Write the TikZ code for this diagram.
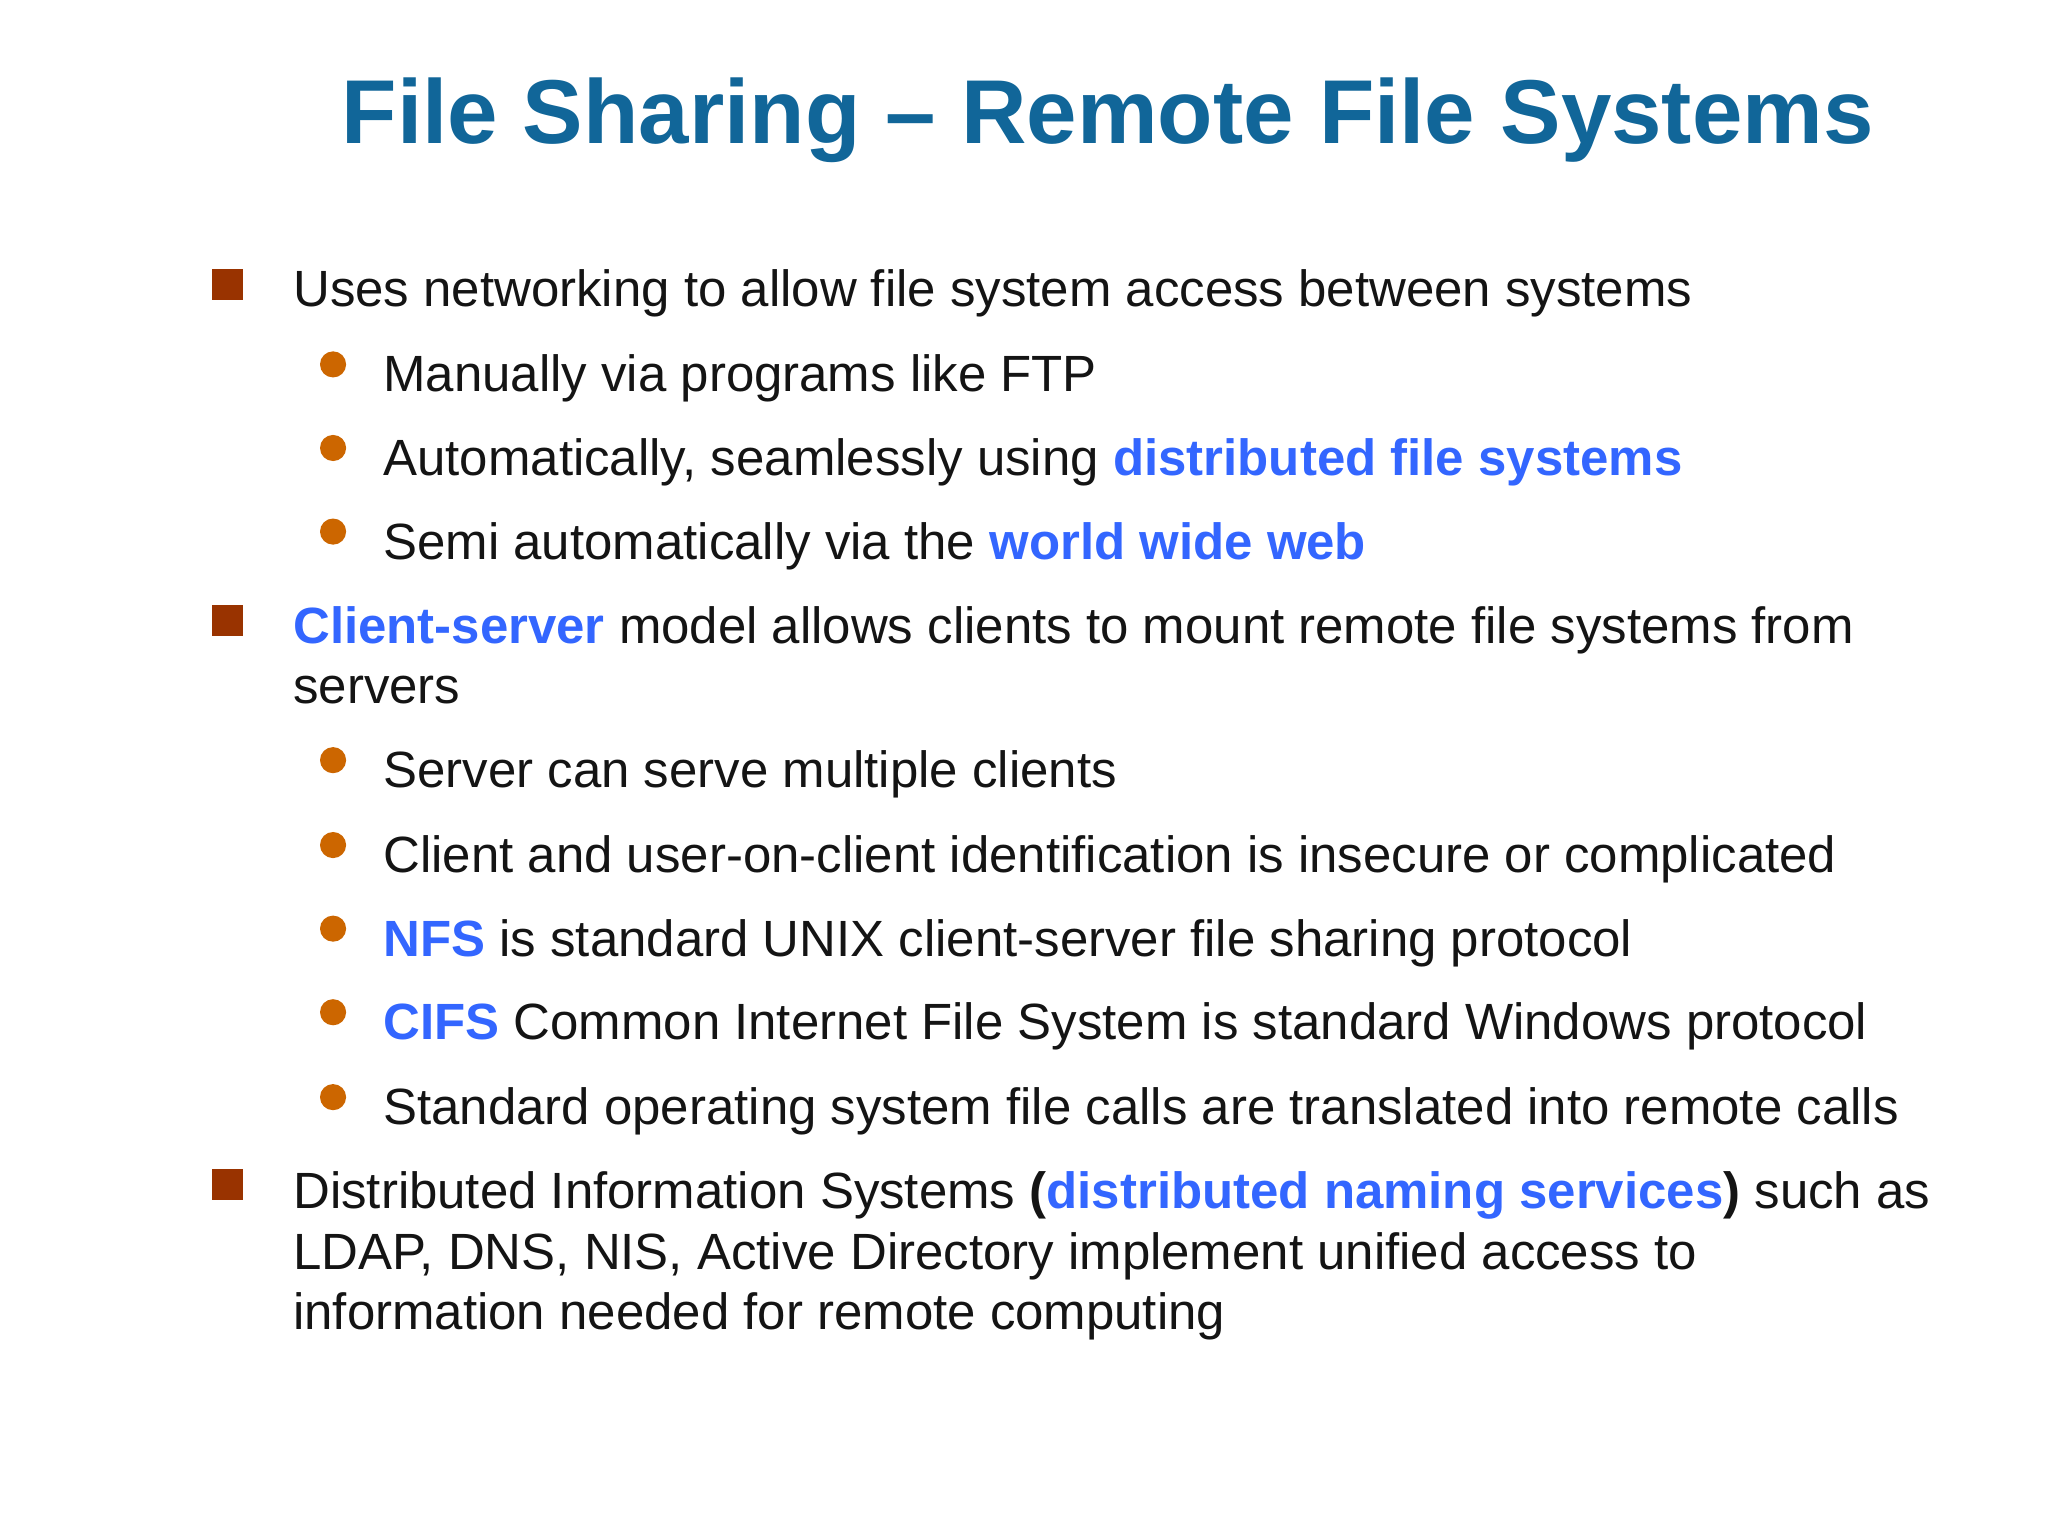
\documentclass[tikz,border=0pt]{standalone}
\usepackage{fontspec}
\setmainfont{Liberation Sans}
\definecolor{titleblue}{RGB}{17,102,153}
\definecolor{hl}{RGB}{51,102,255}
\definecolor{sqc}{RGB}{153,51,0}
\definecolor{dotc}{RGB}{204,102,0}
\definecolor{txt}{RGB}{20,20,20}
\newcommand{\hlt}[1]{\textcolor{hl}{\textbf{#1}}}
\begin{document}
\begin{tikzpicture}[x=0.01306cm,y=-0.01306cm,
  body/.style={anchor=base west,inner sep=0pt,text=txt,font=\fontsize{14.5pt}{17pt}\selectfont},
  sq/.style={fill=sqc,minimum size=24*0.01306cm,inner sep=0pt,draw=none},
  dot/.style={circle,fill=dotc,minimum size=20*0.01306cm,inner sep=0pt,draw=none}]
\useasboundingbox (0,0) rectangle (1568,1176);
\fill[white] (0,0) rectangle (1568,1176);
\node (title) at (848,92) {\fontsize{25.8pt}{30pt}\selectfont\bfseries\color{titleblue}File Sharing – Remote File Systems};
\node[sq] (s1) at (174,218) {};
\node[body] (t1) at (224,235) {Uses networking to allow file system access between systems};
\node[dot] (d1) at (255,279) {};
\node[body] (t2) at (293,300) {Manually via programs like FTP};
\node[dot] (d2) at (255,343) {};
\node[body] (t3) at (293,364) {Automatically, seamlessly using \hlt{distributed file systems}};
\node[dot] (d3) at (255,407) {};
\node[body] (t4) at (293,428) {Semi automatically via the \hlt{world wide web}};
\node[sq] (s2) at (174,475) {};
\node[body] (t5) at (224,493) {\hlt{Client-server} model allows clients to mount remote file systems from};
\node[body] (t5b) at (224,539) {servers};
\node[dot] (d4) at (255,582) {};
\node[body] (t6) at (293,603) {Server can serve multiple clients};
\node[dot] (d5) at (255,647) {};
\node[body] (t7) at (293,668) {Client and user-on-client identification is insecure or complicated};
\node[dot] (d6) at (255,711) {};
\node[body] (t8) at (293,732) {\hlt{NFS} is standard UNIX client-server file sharing protocol};
\node[dot] (d7) at (255,775) {};
\node[body] (t9) at (293,796) {\hlt{CIFS} Common Internet File System is standard Windows protocol};
\node[dot] (d8) at (255,840) {};
\node[body] (t10) at (293,861) {Standard operating system file calls are translated into remote calls};
\node[sq] (s3) at (174,907) {};
\node[body] (t11) at (224,925) {Distributed Information Systems \textbf{(}\hlt{distributed naming services}\textbf{)} such as};
\node[body] (t11b) at (224,972) {LDAP, DNS, NIS, Active Directory implement unified access to};
\node[body] (t11c) at (224,1018) {information needed for remote computing};
\end{tikzpicture}
\end{document}
